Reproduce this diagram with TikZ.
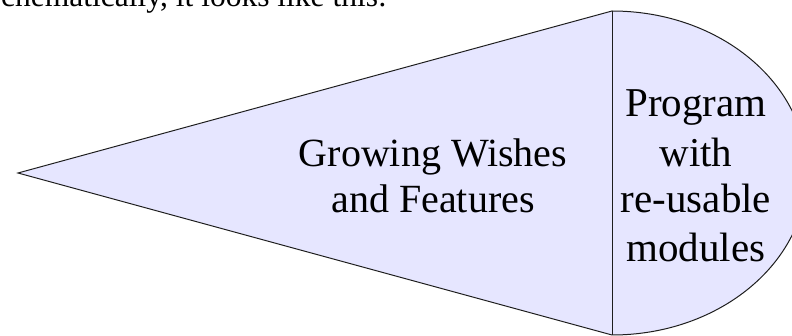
\documentclass[tikz,border=0pt]{standalone}
\usepackage{fontspec}
\setmainfont{Liberation Serif}
\definecolor{shapefill}{RGB}{230,230,255}
\definecolor{edge}{RGB}{30,30,30}
\begin{document}
\begin{tikzpicture}[x=1pt,y=-1pt,
  outline/.style={draw=edge,line width=1pt,line join=miter},
  bigtext/.style={anchor=base,inner sep=0pt,font=\fontsize{40}{46}\selectfont},
  righttext/.style={anchor=base,inner sep=0pt,font=\fontsize{41}{48}\selectfont},
  toptext/.style={anchor=base west,inner sep=0pt,font=\fontsize{31.5}{36}\selectfont}]
\useasboundingbox (0,0) rectangle (792,336);
\clip (0,0) rectangle (792,336);
\coordinate (apex) at (18,173);
\coordinate (top) at (612,11);
\coordinate (bot) at (612,335);
\fill[shapefill] (apex) -- (top) arc[start angle=-90,end angle=90,x radius=195,y radius=162] -- cycle;
\draw[outline] (bot) -- (apex) -- (top) arc[start angle=-90,end angle=90,x radius=195,y radius=162];
\draw[outline] (top) -- (bot);
\node[toptext] (intro) at (1,6.7) {chematically, it looks like this:};
\node[bigtext] (g1) at (433,167) {Growing Wishes};
\node[bigtext] (g2) at (433,213) {and Features};
\node[righttext] (p1) at (696,117) {Program};
\node[righttext] (p2) at (696,167) {with};
\node[righttext] (p3) at (696,213) {re-usable};
\node[righttext] (p4) at (696,262) {modules};
\end{tikzpicture}
\end{document}
